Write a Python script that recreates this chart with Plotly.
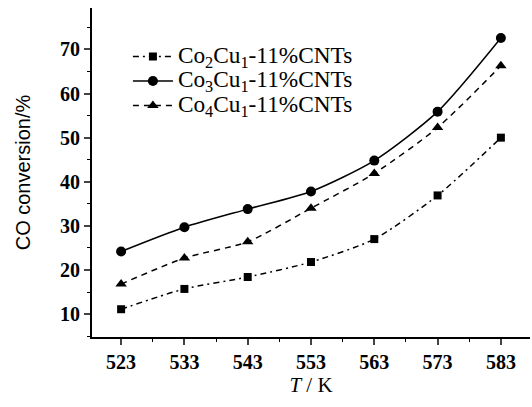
import plotly.graph_objects as go

temps = [523, 533, 543, 553, 563, 573, 583]
co2cu1 = [11.1, 15.7, 18.4, 21.8, 27.0, 36.9, 50.0]
co3cu1 = [24.2, 29.7, 33.8, 37.8, 44.8, 55.9, 72.6]
co4cu1 = [16.8, 22.7, 26.4, 34.0, 41.9, 52.3, 66.3]

names = ["Co<sub>2</sub>Cu<sub>1</sub>-11%CNTs",
         "Co<sub>3</sub>Cu<sub>1</sub>-11%CNTs",
         "Co<sub>4</sub>Cu<sub>1</sub>-11%CNTs"]
big = lambda s: '<span style="font-size:23.3px">' + s + '</span>'

fig = go.Figure()
fig.add_trace(go.Scatter(x=temps, y=co2cu1, name=big(names[0]), mode="lines+markers",
                         line=dict(color="black", width=1.5, shape="spline", smoothing=0.7,
                                   dash="6px,4px,2px,4px"),
                         marker=dict(symbol="square", size=8, color="black")))
fig.add_trace(go.Scatter(x=temps, y=co3cu1, name=big(names[1]), mode="lines+markers",
                         line=dict(color="black", width=1.5, shape="spline", smoothing=0.7),
                         marker=dict(symbol="circle", size=10, color="black")))
fig.add_trace(go.Scatter(x=temps, y=co4cu1, name=big(names[2]), mode="lines+markers",
                         line=dict(color="black", width=1.5, shape="spline", smoothing=0.7,
                                   dash="6px,5px"),
                         marker=dict(symbol="triangle-up", size=10, color="black")))

tickfont = dict(family="Liberation Serif", size=20, color="black", weight="bold")
fig.update_layout(
    width=532, height=407,
    margin=dict(l=92, r=2, t=8, b=70),
    paper_bgcolor="white", plot_bgcolor="white",
    showlegend=True,
    legend=dict(x=0.082, y=0.905, xanchor="left", yanchor="top",
                font=dict(family="Liberation Serif", size=16.5, color="black"),
                bgcolor="rgba(0,0,0,0)", tracegroupgap=0, itemwidth=40),
    xaxis=dict(range=[518.4, 587.6], tickvals=temps, ticks="outside", ticklen=6, tickwidth=1.5,
               showline=True, linecolor="black", linewidth=2, showgrid=False, zeroline=False,
               tickfont=tickfont,
               minor=dict(ticks="outside", dtick=5, tick0=518, ticklen=3, tickwidth=1.2, tickcolor="black"),
               title=dict(text="<i>T</i> / K", font=dict(family="Liberation Serif", size=21, color="black"),
                          standoff=2)),
    yaxis=dict(range=[4.8, 79.4], tickvals=[10, 20, 30, 40, 50, 60, 70], ticks="outside", ticklen=6,
               tickwidth=1.5, showline=True, linecolor="black", linewidth=2, showgrid=False,
               zeroline=False, tickfont=tickfont,
               minor=dict(ticks="outside", dtick=5, ticklen=3, tickwidth=1.2, tickcolor="black"),
               title=dict(text="CO conversion/%", font=dict(family="Liberation Sans", size=20, color="black"),
                          standoff=24)),
)
fig.write_html("out.html", config={"displayModeBar": False},
               post_script="document.body.style.margin='0px';")
